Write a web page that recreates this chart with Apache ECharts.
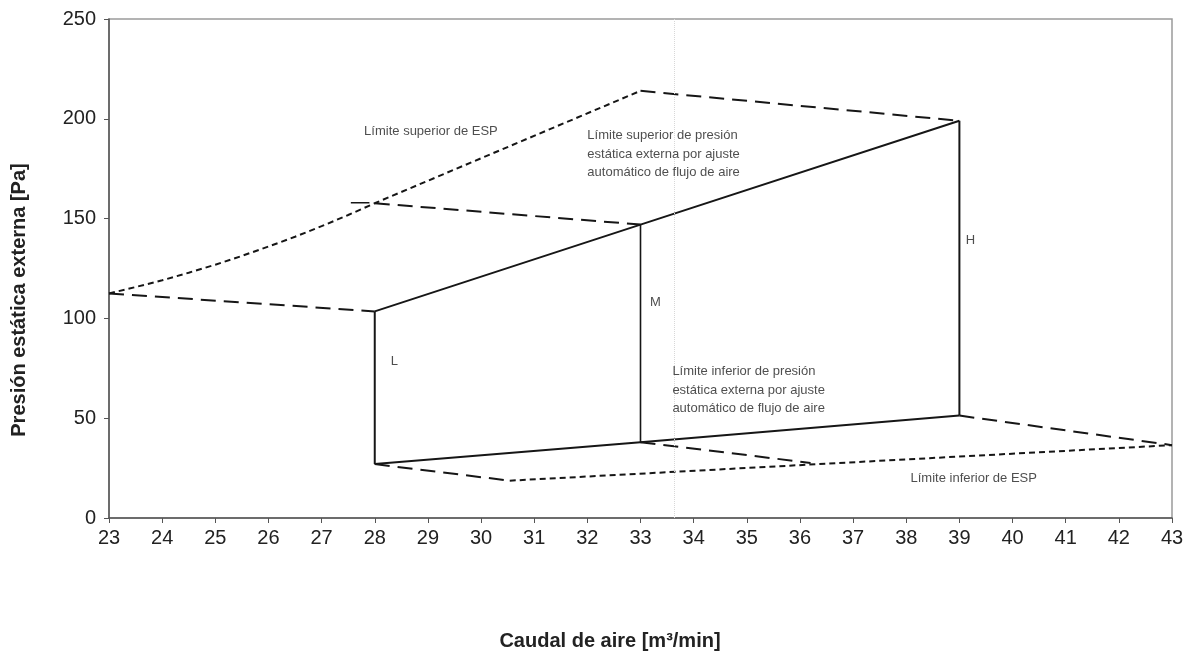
<!DOCTYPE html>
<html><head><meta charset="utf-8">
<script src="https://cdn.jsdelivr.net/npm/echarts@6/dist/echarts.min.js"></script>
<style>html,body{margin:0;padding:0;background:#fff}#c{width:1194px;height:661px}</style>
</head><body><div id="c"></div>
<script>
// Axis ticks
const xTicks = [23,24,25,26,27,28,29,30,31,32,33,34,35,36,37,38,39,40,41,42,43];
const yTicks = [0,50,100,150,200,250];
// Solid lines (automatic air-flow adjustment limits)
const upperAuto = [[28,103.5],[33,147],[39,199]];
const lowerAuto = [[28,27],[33,38],[39,51.3]];
const stepL = [[28,27],[28,103.5]];
const stepM = [[33,38],[33,147]];
const stepH = [[39,51.3],[39,199]];
// Long-dashed connectors
const dashA = [[23,112.5],[28,103.5]];
const dashB = [[28,157.7],[33,147]];
const dashC = [[33,214],[39,199]];
const dashD = [[28,27],[30.54,18.7]];
const dashE = [[33,38],[36.2,27.6]];
const dashF = [[39,51.3],[43,36.5]];
const dashTick = [[27.55,158],[27.9,158]];
// Short-dashed ESP limits
const espUpper = [[23,112.5],[23.5,115.7],[24,119.1],[24.5,122.9],[25,126.9],[25.5,131.3],[26,136.0],[26.5,140.9],[27,146.2],[27.5,151.8],[28,157.7],[33,214]];
const espLower = [[30.54,18.7],[43,36.5]];
// Annotations
const notes = [
  {pos:[27.8,193.6], text:'Límite superior de ESP'},
  {pos:[32.0,182.4], text:'Límite superior de presión\nestática externa por ajuste\nautomático de flujo de aire'},
  {pos:[33.18,108.2], text:'M'},
  {pos:[28.3,78.2], text:'L'},
  {pos:[39.12,139.3], text:'H'},
  {pos:[33.6,64.1], text:'Límite inferior de presión\nestática externa por ajuste\nautomático de flujo de aire'},
  {pos:[38.08,20.0], text:'Límite inferior de ESP'}
];
const scanLineX = 33.63;
const xTitle = 'Caudal de aire [m³/min]';
const yTitle = 'Presión estática externa [Pa]';

const FONT = '"Liberation Sans", Arial, sans-serif';
function line(data, type, width){
  return {type:'line', data:data, showSymbol:false, symbol:'none', silent:true, animation:false,
    lineStyle:{color:'#161616', width:width||2, type:type||'solid'}, z:3};
}
const series = [
  line(upperAuto,'solid',2), line(lowerAuto,'solid',2),
  line(stepL,'solid',2), line(stepM,'solid',1.6), line(stepH,'solid',2),
  line(dashA,[15,8],2), line(dashB,[15,8],2), line(dashC,[15,8],2),
  line(dashD,[15,8],2), line(dashE,[15,8],2), line(dashF,[15,8],2),
  line(dashTick,'solid',1.5),
  line(espUpper,[6,4],2), line(espLower,[6,4],2),
  {type:'scatter', symbolSize:0, silent:true, animation:false, z:5,
   data: notes.map(n=>({value:n.pos, name:n.text})),
   label:{show:true, position:'inside', align:'left', verticalAlign:'middle',
     formatter:p=>p.name, color:'#222', fontSize:13, lineHeight:18.5, fontFamily:FONT},
   markLine:{silent:true, symbol:'none', label:{show:false},
     lineStyle:{color:'#d8d8d8', type:'dotted', width:1},
     data:[{xAxis:scanLineX}]}
  }
];

const chart = echarts.init(document.getElementById('c'), null, {renderer:'canvas'});
chart.setOption({
  backgroundColor:'#fff',
  animation:false,
  grid:{left:109, right:22, top:19, bottom:143, containLabel:false, outerBoundsMode:'none',
        show:true, borderColor:'#9a9a9a', borderWidth:1.5},
  xAxis:{type:'value', min:xTicks[0], max:xTicks[xTicks.length-1], interval:1,
    axisLine:{show:true, lineStyle:{color:'#555', width:1.5}},
    axisTick:{show:true, inside:false, length:5, lineStyle:{color:'#555'}},
    axisLabel:{fontSize:20, color:'#222', margin:10, fontFamily:FONT},
    splitLine:{show:false}},
  yAxis:{type:'value', min:yTicks[0], max:yTicks[yTicks.length-1], interval:50,
    axisLine:{show:true, lineStyle:{color:'#555', width:1.5}},
    axisTick:{show:true, inside:false, length:5, lineStyle:{color:'#555'}},
    axisLabel:{fontSize:20, color:'#222', margin:13, fontFamily:FONT},
    splitLine:{show:false}},
  graphic:[
    {type:'text', x:610, y:641, silent:true,
     style:{text:xTitle, fontSize:20, fontWeight:'bold', fill:'#222', fontFamily:FONT, align:'center', verticalAlign:'middle'}},
    {type:'text', x:19, y:300, rotation:Math.PI/2, silent:true,
     style:{text:yTitle, fontSize:20, fontWeight:'bold', fill:'#222', fontFamily:FONT, align:'center', verticalAlign:'middle'}}
  ],
  series: series
});
</script></body></html>
